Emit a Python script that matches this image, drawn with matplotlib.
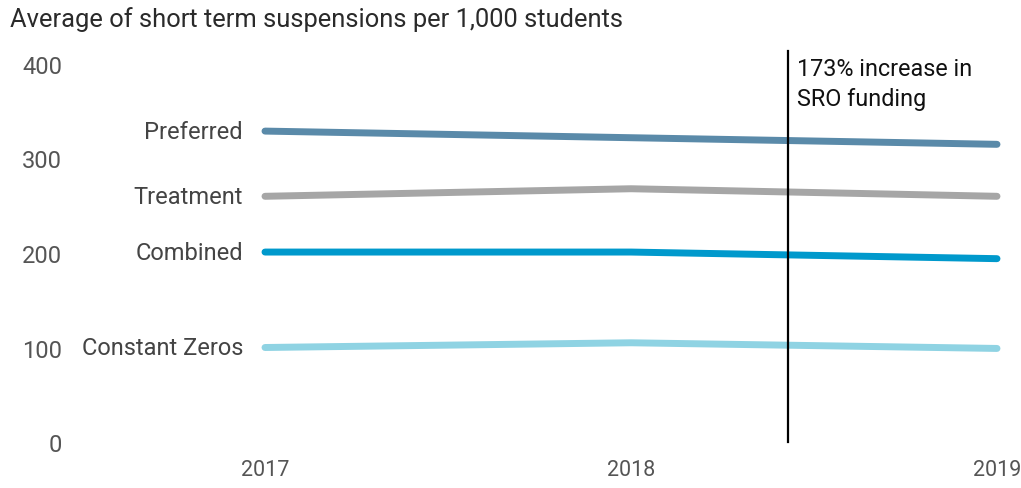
import matplotlib
matplotlib.use("Agg")
import matplotlib.pyplot as plt

years = [2017, 2018, 2019]
series_names = ["Preferred", "Treatment", "Combined", "Constant Zeros"]
preferred = [329, 322, 315]
treatment = [260, 268, 260]
combined = [201, 201, 194]
constant_zeros = [100, 105, 99]
colors = ["#5a8aa9", "#a6a6a6", "#0099cc", "#8fd3e3"]
y_ticks = [0, 100, 200, 300, 400]
sro_year = 2018.43
sro_note = "173% increase in\nSRO funding"

plt.rcParams['font.family'] = ['Roboto', 'DejaVu Sans']

fig = plt.figure(figsize=(10.21, 4.89), dpi=100)
ax = fig.add_axes([265 / 1021, 1 - 443 / 489, (997 - 265) / 1021, (443 - 65) / 489])

for name, vals, c in zip(series_names, [preferred, treatment, combined, constant_zeros], colors):
    ax.plot(years, vals, color=c, lw=5, solid_capstyle='round', clip_on=False)
    ax.annotate(name, (years[0], vals[0]), xytext=(-22, 0), textcoords='offset pixels',
                ha='right', va='center', fontsize=17, color='#444444')

# marker for the funding change
ax.plot([sro_year, sro_year], [0, 414], color='black', lw=1.6, clip_on=False)
ax.annotate(sro_note, (sro_year, 407), xytext=(9, 0), textcoords='offset pixels',
            fontsize=16.8, color='#111111', va='top', ha='left', linespacing=1.35,
            annotation_clip=False)

ax.set_xlim(2017, 2019)
ax.set_ylim(0, 400)
ax.set_xticks(years)
ax.set_yticks(y_ticks)
ax.tick_params(length=0, labelcolor='#555555')
ax.tick_params(axis='y', pad=146, labelsize=17)
ax.tick_params(axis='x', pad=12, labelsize=15.5)
for s in ax.spines.values():
    s.set_visible(False)

fig.text(10 / 1021, 1 - 20 / 489, "Average of short term suspensions per 1,000 students",
         fontsize=18.4, color='#2a2a2a', va='center', ha='left')

fig.savefig("out.png", dpi=100)
